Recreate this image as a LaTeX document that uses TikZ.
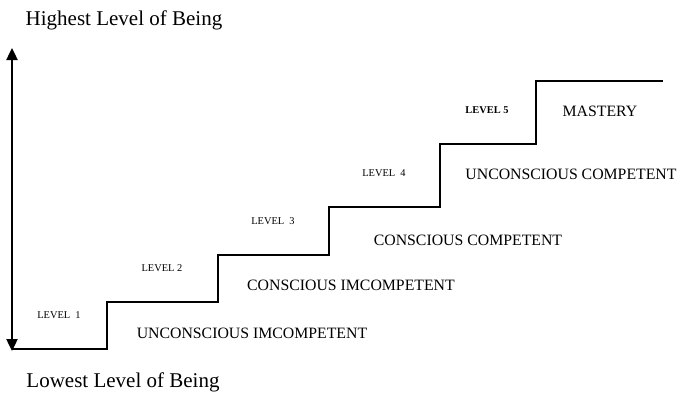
\documentclass[tikz,border=0pt]{standalone}
\usepackage{fontspec}
\setmainfont{Liberation Serif}
\usetikzlibrary{arrows.meta}
\begin{document}
\begin{tikzpicture}[x=1pt,y=-1pt,
  title/.style={font=\fontsize{21}{24}\selectfont, inner sep=0pt},
  stage/.style={font=\fontsize{15.8}{18}\selectfont, inner sep=0pt},
  lvl/.style={font=\fontsize{10.4}{12}\selectfont, inner sep=0pt},
  stair/.style={line width=1.3pt, line join=miter},
  scale arrow/.style={line width=2.4pt, {Triangle[width=11pt,length=12pt]}-{Triangle[width=11pt,length=12pt]}}]
\useasboundingbox (0,0) rectangle (683,394);

% vertical scale
\node[title] (high) at (124,20) {Highest Level of Being};
\node[title] (low)  at (123,382) {Lowest Level of Being};
\coordinate (top) at (12,48);
\coordinate (bot) at (12,351);
\draw[scale arrow] (bot) -- (top);

% staircase
\coordinate (s0) at (12,349);
\coordinate (s1) at (107,349);
\coordinate (s2) at (107,302);
\coordinate (s3) at (218,302);
\coordinate (s4) at (218,255);
\coordinate (s5) at (329,255);
\coordinate (s6) at (329,207);
\coordinate (s7) at (440,207);
\coordinate (s8) at (440,144);
\coordinate (s9) at (536,144);
\coordinate (s10) at (536,81);
\coordinate (s11) at (663,81);
\draw[stair] (s0) -- (s1) -- (s2) -- (s3) -- (s4) -- (s5) -- (s6) -- (s7) -- (s8) -- (s9) -- (s10) -- (s11);

% level markers
\node[lvl] (l1) at (59,315) {LEVEL\ \ 1};
\node[lvl] (l2) at (162,268) {LEVEL 2};
\node[lvl] (l3) at (273,221) {LEVEL\ \ 3};
\node[lvl] (l4) at (384,173) {LEVEL\ \ 4};
\node[lvl,font=\fontsize{10.4}{12}\selectfont\bfseries] (l5) at (487,110) {LEVEL 5};

% stage names
\node[stage] (st1) at (252,333) {UNCONSCIOUS IMCOMPETENT};
\node[stage] (st2) at (351,285) {CONSCIOUS IMCOMPETENT};
\node[stage] (st3) at (468,240) {CONSCIOUS COMPETENT};
\node[stage] (st4) at (571,174) {UNCONSCIOUS COMPETENT};
\node[stage] (st5) at (600,111) {MASTERY};
\end{tikzpicture}
\end{document}
